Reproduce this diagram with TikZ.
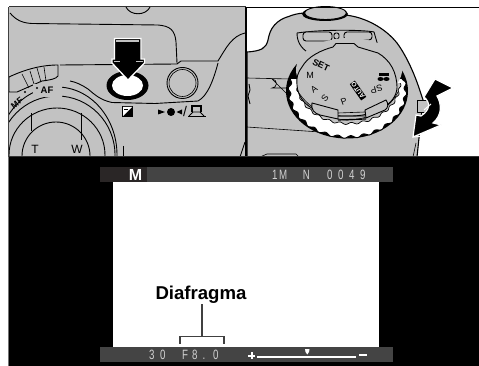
\documentclass[tikz,border=0pt]{standalone}
\usepackage{fontspec}
\setmainfont{Liberation Sans}
\newfontfamily\lcdf[FakeStretch=0.72]{Liberation Sans}
\definecolor{pgray}{HTML}{C2C2C2}
\definecolor{barg}{HTML}{444444}
\definecolor{bard}{HTML}{2A2626}
\definecolor{lcd}{HTML}{D0D0D0}
\tikzset{
 ln/.style={draw=black,line width=0.9pt,line join=round},
 thinln/.style={draw=black,line width=0.6pt},
 lab/.style={font=\bfseries\fontsize{9}{9}\selectfont,inner sep=0pt},
 dial/.style={font=\fontsize{9}{9}\selectfont,inner sep=0pt},
 lcdt/.style={font=\lcdf\fontsize{13.5}{13.5}\selectfont,text=lcd,inner sep=0pt},
}
\begin{document}
\begin{tikzpicture}[x=1pt,y=-1pt]
\useasboundingbox (0,0) rectangle (479,366);
\fill[white] (0,0) rectangle (479,366);
% left panel
\fill[pgray] (9,7) rectangle (245,157);
\begin{scope}
\clip (9,7) rectangle (245,157);
\draw[ln] (10,13) .. controls (16,20) and (22,23) .. (32,23.5) -- (158,25) .. controls (170,26) and (175,30) .. (176,42) -- (177,63);
\draw[ln] (177,64) -- (181,61) -- (218,61) .. controls (226,48) and (232,36) .. (245,33);
\draw[ln] (126,7) .. controls (130,16) and (146,16) .. (150,7);
\draw[ln] (60,65) -- (177,64);
\draw[ln] (218,63) .. controls (214,78) and (208,96) .. (198,101) -- (155,103.5) -- (112,102.5) .. controls (100,100) and (94,94) .. (88,89) .. controls (82,85) and (76,82) .. (70,81);
% lens rings
\draw[ln] (57,155) ellipse[x radius=60,y radius=68];
\draw[ln] (57,155) ellipse[x radius=58,y radius=59];
\draw[ln] (57,155) ellipse[x radius=48,y radius=47];
\draw[ln] (56,156) circle[radius=34];
\draw[ln] (31,113) -- (31,131);
\draw[ln] (81,113) -- (81,140);
\draw[ln] (123,146) -- (123,157);
\draw[ln] (240,157) -- (245,142);
% AF dial
\draw[ln,fill=pgray] (9,77) .. controls (26,69) and (42,65) .. (58,65) -- (58,76) .. controls (56,79) and (50,80) .. (42,81) -- (17,92) -- (9,92) -- cycle;
\draw[thinln] (22,74) -- (29,88) (30,71) -- (34,84) (37,68) -- (41,82) (44,67) -- (46,81);
\end{scope}
\fill[pgray] (33,84) rectangle (62,97);
\node[font=\bfseries\fontsize{9.5}{9.5}\selectfont,inner sep=0pt] (af) at (47,90) {AF};
\node[font=\bfseries\fontsize{8.5}{8.5}\selectfont,inner sep=0pt,rotate=38] (mf) at (17,103) {MF};
\fill (25,92) circle[radius=1.1] (37,88) circle[radius=1.1];
\node[font=\fontsize{12}{12}\selectfont,inner sep=0pt] (t) at (35,149) {T};
\node[font=\fontsize{12}{12}\selectfont,inner sep=0pt] (w) at (77,149) {W};
% main button
\fill[black] (127.5,85.5) ellipse[x radius=21,y radius=14.5];
\fill[white] (127.5,85.5) ellipse[x radius=15.5,y radius=10.5];
\draw[white,fill=black,line width=1.3pt,line join=miter] (114.5,38.5) -- (141,38.5) -- (141,59) -- (144.5,59) -- (144.5,63) -- (128,80) -- (112,63) -- (112,59) -- (114.5,59) -- cycle;
\fill[pgray] (116,40.5) rectangle (139,41.8);
\fill[pgray] (113.5,60.8) rectangle (120,62);
\fill[pgray] (136,60.8) rectangle (143,62);
% second button
\draw[ln,fill=pgray] (182.5,83) circle[radius=15.5];
\draw[thinln] (182.5,83) circle[radius=13.5];
% ev icon
\fill[black] (122,106) rectangle (133,117);
\fill[white] (123,107) -- (132,107) -- (123,116) -- cycle;
\fill[black] (124.3,109.3) rectangle (128,110.3);
% focus symbols
\fill (158,109.5) -- (165,112) -- (158,114.5) -- cycle;
\fill (171,112) circle[radius=4];
\fill (182,109.5) -- (176.5,112) -- (182,114.5) -- cycle;
\node[font=\fontsize{14}{14}\selectfont,inner sep=0pt] (sl) at (185,111) {/};
\draw[line width=0.8pt] (188,116.5) -- (206,116.5);
\draw[line width=1.1pt] (192,112) -- (192,106) -- (201,106) -- (201,112);
\draw[line width=0.8pt] (189,116) -- (193,112) -- (200,112) -- (204,116);
% right panel
\fill[white] (246,7) rectangle (479,157);
\begin{scope}
\clip (247,7) rectangle (479,157);
\draw[ln,fill=pgray,line width=1.1pt] (247,52) .. controls (262,51) and (266,48) .. (268,40) .. controls (270,28) and (276,20) .. (290,16) .. controls (298,13) and (303,13) .. (308,13) -- (345,15) .. controls (365,17) and (385,28) .. (397,43) .. controls (408,58) and (416,78) .. (421,94) -- (423,100) -- (417,157) -- (247,157) -- cycle;
\draw[thinln] (413,157) -- (416,143);
\draw[ln,fill=pgray] (417,100) rectangle (430,112);
\fill[black] (325,14) ellipse[x radius=23,y radius=7];
\draw[ln,fill=pgray] (325.5,13) ellipse[x radius=21,y radius=6.5];
\draw[thinln] (247,78) -- (290,79);
\draw[thinln,fill=pgray] (290,88) -- (272,88) arc[start angle=-90,end angle=-270,radius=-4.5] -- (290,97);
\draw[thinln] (247,127) -- (320,132);
\draw[thinln] (260,157) -- (267,154) -- (296,154) -- (299,157);
\draw[ln] (249,84) -- (250,90) -- (248,96) -- (250,104);
\end{scope}
\draw[ln] (247,7) -- (479,7);
\draw[line width=1.4pt] (246,7) -- (246,157);
% top plate
\draw[ln] (297,33) .. controls (297,44) and (303,50) .. (312,55);
\draw[ln] (297,33) .. controls (325,29) and (365,30) .. (374,32) -- (380,53);
\draw[ln,fill=pgray,rounded corners=3pt] (303,32) rectangle (332,41);
\draw[ln,fill=pgray,rounded corners=2pt] (334,33) rectangle (339,39);
\draw[ln,fill=pgray,rounded corners=3pt] (344,32) rectangle (372,40);
% dial
\begin{scope}
\clip (280,60) rectangle (420,145);
\fill[black] (347,91) ellipse[x radius=61,y radius=47.5];
\end{scope}
\begin{scope}
\clip (280,80) rectangle (420,145);
\draw[black,line width=0.9pt,fill=white] plot[domain=0:360,samples=361] ({347.5+(58+1.3*sin(28*\x))*cos(\x)},{91+(46+1.3*sin(28*\x))*sin(\x)}) -- cycle;
\end{scope}
\fill[pgray] (349,70) ellipse[x radius=53,y radius=32];
\begin{scope}
\clip (280,84) rectangle (420,145);
\draw[black,line width=0.7pt,fill=pgray] plot[domain=0:360,samples=361] ({348.5+(51.5+1*sin(28*\x))*cos(\x)},{83+(40.5+1*sin(28*\x))*sin(\x)}) -- cycle;
\end{scope}
\draw[ln,fill=pgray] (302,67) .. controls (308,56) and (322,50) .. (333,47) -- (336,43.5) -- (354,43.5) -- (358,47) -- (378,53) .. controls (390,60) and (397,72) .. (397,88) .. controls (396,104) and (375,117) .. (347,116) .. controls (320,117) and (298,105) .. (297,85) .. controls (296,78) and (298,72) .. (302,67) -- cycle;
\draw[thinln] (297,90) .. controls (310,112) and (335,120) .. (347,120) .. controls (365,120) and (388,112) .. (398,92);
\draw[ln,fill=pgray] (312,103) -- (338,110) -- (338,119) -- (320,115) .. controls (314,113) and (311,110) .. (312,103) -- cycle;
\draw[ln,fill=pgray] (365,110) -- (386,100) .. controls (389,104) and (388,108) .. (385,110) -- (366,118) -- cycle;
\draw[thinln] (338,113) -- (365,112) (338,116) -- (365,116);
\draw[line width=1.2pt] (338,120) -- (366,119);
% dial labels
\node[lab,rotate=-25] (set) at (321,65) {SET};
\node[dial] (m) at (310,75) {M};
\node[dial,rotate=35] (a) at (314,89) {A};
\node[dial,rotate=50] (s) at (325,98) {S};
\node[dial,rotate=20] (p) at (344,102) {P};
\node[fill=black,text=white,rotate=125,font=\bfseries\fontsize{6.5}{6.5}\selectfont,inner sep=0.8pt] (auto) at (358,90.5) {AUTO};
\node[dial,rotate=195] (sp) at (376.5,89) {SP};
\fill[black] (379,73) rectangle (389,76.5);
\fill[black] (380.5,79) ellipse[x radius=3,y radius=2] (386.5,79) ellipse[x radius=3,y radius=2];
% curved arrow
\draw[white,fill=black,line width=1.2pt,line join=miter] (435,79) -- (453,88) -- (437,96) .. controls (442,105) and (442,115) .. (433,123) -- (441,125) -- (413,137) -- (416,115) -- (421,116) .. controls (430,110) and (431,103) .. (424,97) -- cycle;
\draw[white,line width=1pt] (424,110) -- (431,104);
\draw[white,line width=1pt] (413,137) .. controls (420,137) and (430,134) .. (437,131);
% black lower part
\fill[black] (8.5,157) rectangle (479,366);
\fill[black!75] (8,7) rectangle (9,157);
\fill[black!55] (8,157) rectangle (9,366);
\fill[black!80] (9,155.8) rectangle (479,157);
\fill[black!80] (9,6.5) rectangle (245.5,7.5);
% LCD
\fill[barg] (100,167) rectangle (393,182);
\fill[bard] (100,167) rectangle (147,182);
\fill[white] (113,182) rectangle (379,347);
\fill[barg] (100,347) rectangle (393,362);
\node[font=\bfseries\fontsize{16}{16}\selectfont,text=white,inner sep=0pt] (mode) at (135.5,175) {M};
\node[lcdt,anchor=west] (info1) at (272,175) {1\hspace{1.5pt}M};
\node[lcdt] (info2) at (306.5,175) {N};
\node[lcdt,anchor=west] (info3) at (327,175) {0\hspace{5.6pt}0\hspace{5.6pt}4\hspace{5.6pt}9};
\node[lcdt,anchor=west] (time) at (149,355) {3\hspace{5.6pt}0};
\node[lcdt,anchor=west] (ap) at (182,355) {F\hspace{4pt}8\hspace{5pt}.\hspace{8pt}0};
\fill[white] (248,354.5) rectangle (255,356.5);
\fill[white] (250.5,352) rectangle (252.5,359);
\fill[white] (257,356) rectangle (356,358);
\fill[white] (305,349) -- (309.5,349) -- (309,352) -- (307.3,354.5) -- (305.5,352) -- cycle;
\fill[white] (359,353.5) rectangle (367,356);
% label
\node[font=\bfseries\fontsize{18.6}{19}\selectfont,inner sep=0pt] (diaf) at (201,294.5) {Diafragma};
\coordinate (bk) at (202,336.5);
\coordinate (bl) at (180,343.5);
\coordinate (br) at (224,343.5);
\draw[black!75,line width=1.3pt] (bk |- diaf.south) ++(0,1) -- (bk);
\draw[black!75,line width=1.3pt] (bl) |- (bk) -| (br);
\end{tikzpicture}
\end{document}
